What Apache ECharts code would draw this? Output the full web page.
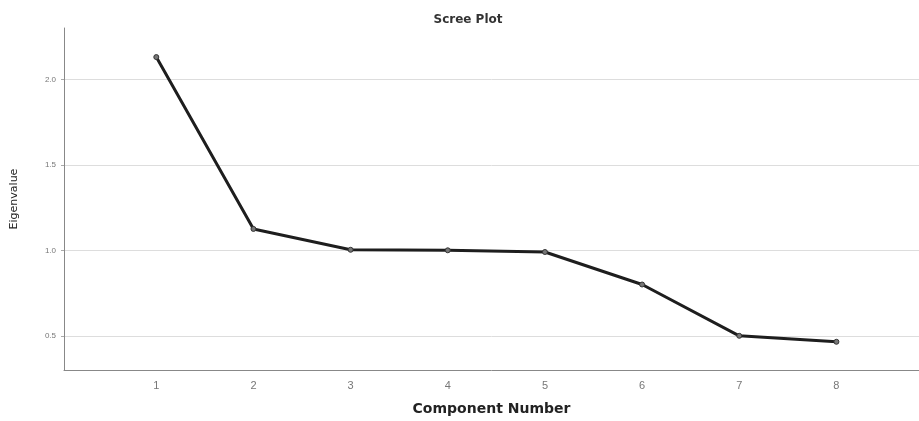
<!DOCTYPE html>
<html>
<head>
<meta charset="utf-8">
<script src="https://cdn.jsdelivr.net/npm/echarts@6/dist/echarts.min.js"></script>
<style>
  html, body { margin: 0; padding: 0; background: #fff; }
  #chart { width: 919px; height: 421px; }
</style>
</head>
<body>
<div id="chart"></div>
<script>
// component numbers and their eigenvalues
const components = [1, 2, 3, 4, 5, 6, 7, 8]
const eigenvalues = [2.13, 1.125, 1.003, 1.0, 0.99, 0.80, 0.50, 0.465]
const yTicks = [0.5, 1.0, 1.5, 2.0]

const chart = echarts.init(document.getElementById('chart'))

chart.setOption({
  animation: false,
  title: {
    text: 'Scree Plot',
    left: 463,
    top: 9,
    textAlign: 'center',
    textStyle: { fontFamily: 'DejaVu Sans', fontSize: 12, fontWeight: 'bold', color: '#333' }
  },
  grid: { left: 64, right: 0, top: 28, bottom: 49 },
  xAxis: {
    type: 'value',
    min: 0.05,
    max: 8.85,
    name: 'Component Number',
    nameLocation: 'middle',
    nameGap: 32,
    nameTextStyle: { fontFamily: 'DejaVu Sans', fontSize: 14, fontWeight: 'bold', color: '#222' },
    axisLine: { lineStyle: { color: '#888', width: 1 } },
    axisTick: { show: false },
    splitLine: { show: false },
    axisLabel: {
      customValues: components,
      formatter: v => String(v),
      margin: 10,
      fontFamily: 'Liberation Sans',
      fontSize: 11,
      color: '#777'
    }
  },
  yAxis: {
    type: 'value',
    min: 0.3,
    max: 2.3,
    name: 'Eigenvalue',
    nameLocation: 'middle',
    nameRotate: 90,
    nameGap: 44,
    nameTextStyle: { fontFamily: 'DejaVu Sans', fontSize: 11, color: '#222' },
    axisLine: { show: true, lineStyle: { color: '#888', width: 1 } },
    axisTick: { show: true, customValues: yTicks, length: 3, lineStyle: { color: '#aaa' } },
    splitLine: { show: true, lineStyle: { color: '#ddd', width: 1 } },
    axisLabel: {
      customValues: yTicks,
      formatter: v => v.toFixed(1),
      margin: 8,
      fontFamily: 'Liberation Sans',
      fontSize: 8,
      color: '#777'
    }
  },
  series: [
    {
      type: 'line',
      data: components.map((c, i) => [c, eigenvalues[i]]),
      symbol: 'circle',
      symbolSize: 5,
      lineStyle: { color: '#1e1e1e', width: 3 },
      itemStyle: { color: '#777', borderColor: '#333', borderWidth: 1 }
    }
  ]
})
</script>
</body>
</html>
